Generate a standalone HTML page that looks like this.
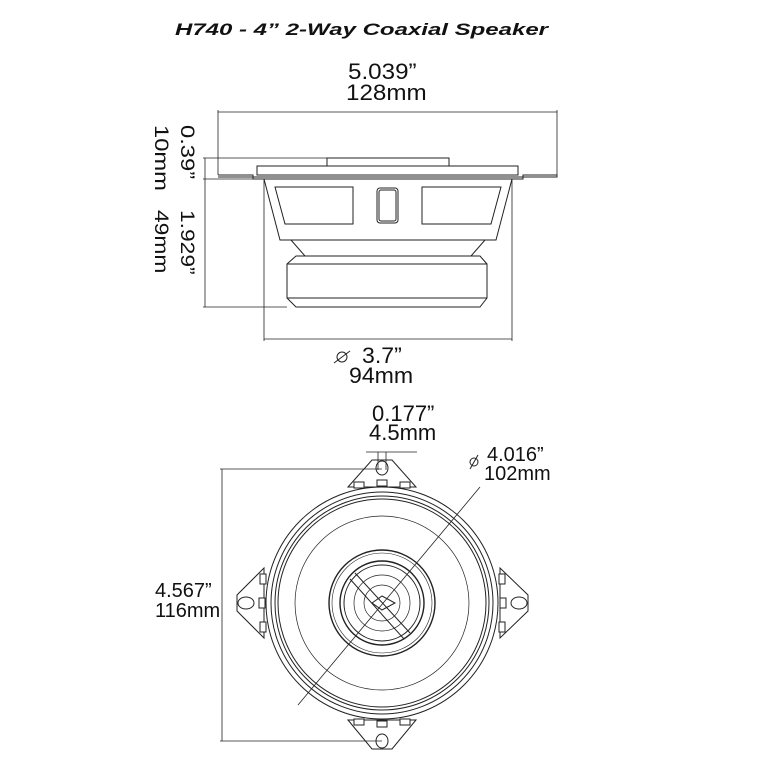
<!DOCTYPE html>
<html><head><meta charset="utf-8"><style>
html,body{margin:0;padding:0;background:#fff;}
svg{display:block;}
text{font-family:"Liberation Sans",sans-serif;fill:#111;}
</style></head><body>
<svg width="771" height="780" viewBox="0 0 771 780" xmlns="http://www.w3.org/2000/svg">
<text x="175" y="35" font-size="17" font-weight="bold" font-style="italic" textLength="373" lengthAdjust="spacingAndGlyphs">H740 - 4” 2-Way Coaxial Speaker</text>
<g font-size="22">
<text transform="translate(348,79) scale(1.1,1)">5.039”</text>
<text transform="translate(346,100) scale(1.1,1)">128mm</text>
<text transform="translate(362,363) scale(1.05,1)">3.7”</text>
<text transform="translate(349,383) scale(1.05,1)">94mm</text>
<text transform="translate(372,421) scale(1.0,1)">0.177”</text>
<text transform="translate(369,440) scale(1.0,1)">4.5mm</text>
<text transform="translate(487,461)" font-size="20">4.016”</text>
<text transform="translate(484,480)" font-size="20">102mm</text>
<text transform="translate(155,597)" font-size="20">4.567”</text>
<text transform="translate(155,617)" font-size="20">116mm</text>
<text transform="translate(181,125) rotate(90) scale(1.25,1)" font-size="19">0.39”</text>
<text transform="translate(155,125) rotate(90) scale(1.25,1)" font-size="19">10mm</text>
<text transform="translate(181,210) rotate(90) scale(1.2,1)" font-size="19">1.929”</text>
<text transform="translate(155,210) rotate(90) scale(1.2,1)" font-size="19">49mm</text>
</g>
<g fill="none" stroke="#222" stroke-width="1">
<circle cx="342" cy="357" r="5"/><line x1="334" y1="363" x2="350" y2="351"/>
<circle cx="474" cy="462" r="4"/><line x1="470" y1="469" x2="478" y2="455"/>
<line x1="218" y1="112" x2="557" y2="112" stroke-width="0.8"/>
<line x1="218" y1="110" x2="218" y2="175" stroke-width="0.8"/>
<line x1="557" y1="110" x2="557" y2="175" stroke-width="0.8"/>
<polyline points="218,175 253,175 253,179 523,179 523,175 557,175 557,177 218,177"/>
<rect x="257" y="166" width="261" height="9"/>
<rect x="327" y="158" width="122" height="8"/>
<polygon points="264,179 512,179 496,240 280,240"/>
<polygon points="275,187 353,187 353,224 285,224"/>
<polygon points="422,187 501,187 491,224 422,224"/>
<rect x="377" y="188" width="21" height="35" rx="3"/>
<rect x="379" y="190" width="17" height="31" rx="2"/>
<polyline points="291,240 305,256"/><polyline points="485,240 471,256"/>
<polygon points="296,256 480,256 487,264 487,298 480,307 296,307 287,298 287,264"/>
<line x1="287" y1="264" x2="487" y2="264"/><line x1="287" y1="298" x2="487" y2="298"/>
<line x1="205" y1="158" x2="205" y2="307" stroke-width="0.8"/>
<line x1="203" y1="158" x2="327" y2="158" stroke-width="0.8"/>
<line x1="203" y1="179" x2="264" y2="179" stroke-width="0.8"/>
<line x1="203" y1="307" x2="287" y2="307" stroke-width="0.8"/>
<line x1="264" y1="179" x2="264" y2="341" stroke-width="0.8"/>
<line x1="512" y1="179" x2="512" y2="341" stroke-width="0.8"/>
<line x1="264" y1="339" x2="512" y2="339" stroke-width="0.8"/>
<line x1="222" y1="469" x2="222" y2="741" stroke-width="0.8"/>
<line x1="220" y1="469" x2="382" y2="469" stroke-width="0.8"/>
<line x1="220" y1="741" x2="382" y2="741" stroke-width="0.8"/>
<line x1="378" y1="452" x2="378" y2="470" stroke-width="0.8"/>
<line x1="386" y1="452" x2="386" y2="470" stroke-width="0.8"/>
<line x1="366" y1="452" x2="417" y2="452" stroke-width="0.8"/>
<polygon points="348,487 372,460 392,460 416,487"/>
<ellipse cx="382" cy="468" rx="6" ry="7"/>
<polygon points="348,720 372,749 392,749 416,720"/>
<ellipse cx="382" cy="741" rx="6" ry="7"/>
<polygon points="264,568 237,595 237,611 264,638"/>
<ellipse cx="246" cy="603" rx="8" ry="6"/>
<polygon points="500,568 528,595 528,611 500,638"/>
<ellipse cx="519" cy="603" rx="8" ry="6"/>
<g fill="#fff">
<rect x="354" y="482" width="10" height="6"/><rect x="377" y="480" width="10" height="6"/><rect x="400" y="482" width="10" height="6"/>
<rect x="354" y="719" width="10" height="6"/><rect x="377" y="721" width="10" height="6"/><rect x="400" y="719" width="10" height="6"/>
<rect x="260" y="574" width="6" height="10"/><rect x="259" y="598" width="6" height="10"/><rect x="260" y="622" width="6" height="10"/>
<rect x="499" y="574" width="6" height="10"/><rect x="500" y="598" width="6" height="10"/><rect x="499" y="622" width="6" height="10"/>
<circle cx="382" cy="603" r="116"/>
</g>
<circle cx="382" cy="603" r="111"/>
<circle cx="382" cy="603" r="107"/>
<circle cx="382" cy="603" r="104"/>
<circle cx="382" cy="603" r="87" stroke-width="0.7"/>
<circle cx="382" cy="603" r="53" stroke-width="1.4"/>
<circle cx="382" cy="603" r="50" stroke-width="0.6"/>
<circle cx="382" cy="603" r="42" stroke-width="1.4"/>
<circle cx="382" cy="603" r="38"/>
<circle cx="382" cy="603" r="28" stroke-width="0.7"/>
<circle cx="382" cy="603" r="18" stroke-width="0.7"/>
<line x1="355" y1="573" x2="410" y2="633"/>
<line x1="350" y1="579" x2="404" y2="639"/>
<polygon points="372,603 382,596 395,603 382,610"/>
<line x1="298" y1="705" x2="480" y2="487" stroke-width="0.8"/>
</g>
</svg>
</body></html>
